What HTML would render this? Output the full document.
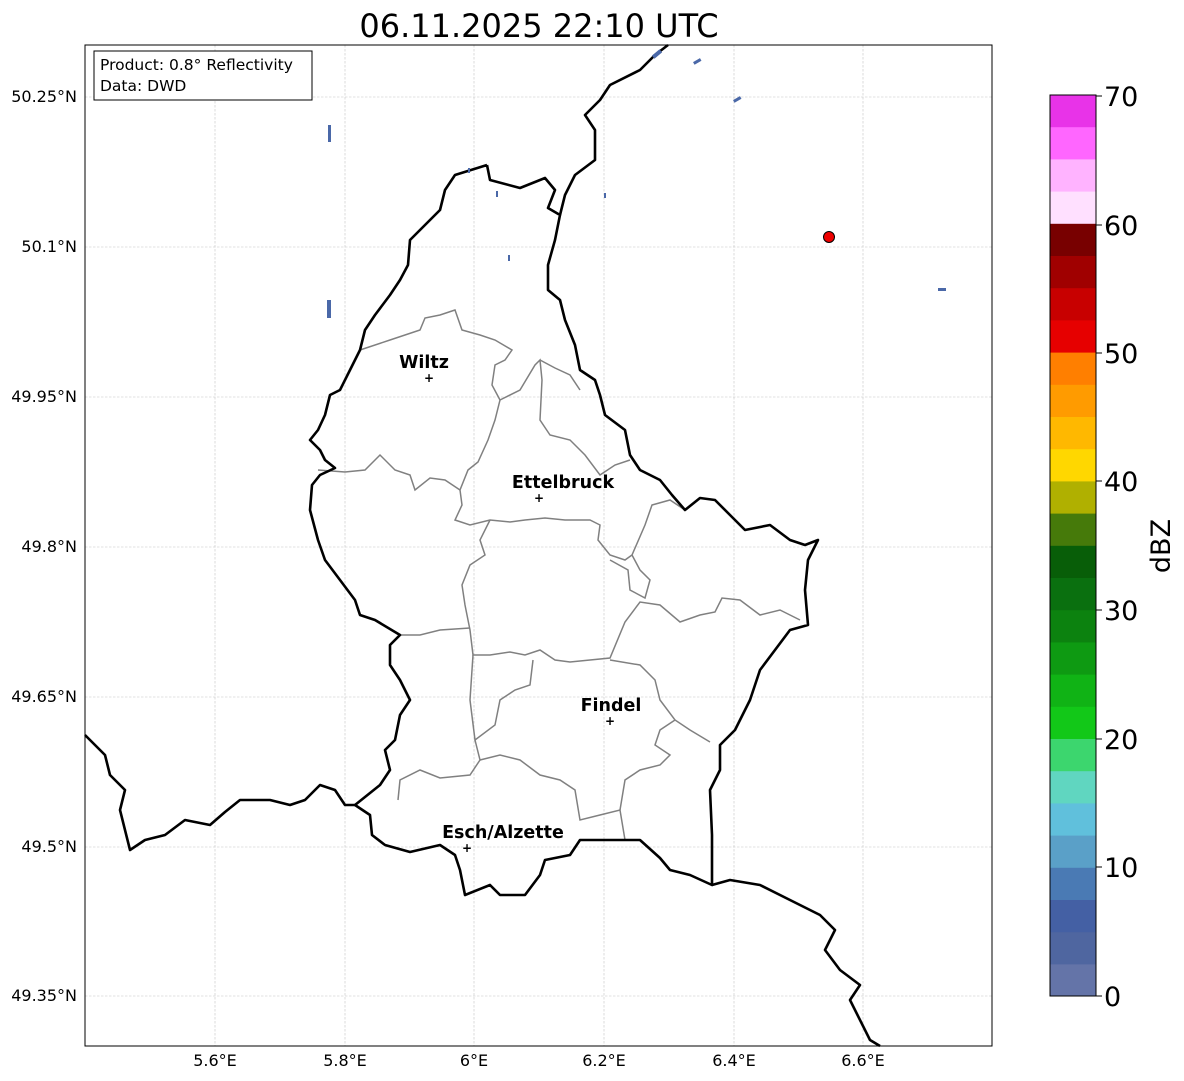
<!DOCTYPE html>
<html><head><meta charset="utf-8"><style>
body{margin:0;background:#fff;}
svg{display:block;font-family:"DejaVu Sans","Liberation Sans",sans-serif;}
</style></head><body>
<svg width="1184" height="1081" viewBox="0 0 1184 1081" xmlns="http://www.w3.org/2000/svg">
<rect width="1184" height="1081" fill="#fff"/>
<text x="539" y="37" font-size="32" text-anchor="middle">06.11.2025 22:10 UTC</text>
<g stroke="#c4c4c4" stroke-width="0.6" stroke-dasharray="2.5,1.5">
<line x1="215" y1="45" x2="215" y2="1046"/><line x1="345" y1="45" x2="345" y2="1046"/>
<line x1="474" y1="45" x2="474" y2="1046"/><line x1="604" y1="45" x2="604" y2="1046"/>
<line x1="734" y1="45" x2="734" y2="1046"/><line x1="863" y1="45" x2="863" y2="1046"/>
<line x1="85" y1="97" x2="992" y2="97"/><line x1="85" y1="247" x2="992" y2="247"/>
<line x1="85" y1="397" x2="992" y2="397"/><line x1="85" y1="547" x2="992" y2="547"/>
<line x1="85" y1="697" x2="992" y2="697"/><line x1="85" y1="847" x2="992" y2="847"/>
<line x1="85" y1="996" x2="992" y2="996"/>
</g>
<g fill="none" stroke="#808080" stroke-width="1.5">
<polyline points="360,350 390,340 420,330 425,318 440,315 455,310 462,330 480,335 495,340 512,350 505,360 495,365 492,385 500,400 495,420 488,440 478,462 468,470 460,490 462,505 455,520 470,525 490,520 510,522 525,520 545,518 565,520 590,520 600,525 598,540 610,555 625,560 632,555 645,525 652,505 670,500 685,510"/>
<polyline points="318,470 345,472 365,470 380,455 395,470 410,475 415,490 430,478 445,480 460,490"/>
<polyline points="500,400 520,390 535,365 540,360 542,380 540,420 550,435 570,440 585,455 600,475 615,465 630,460"/>
<polyline points="540,360 555,368 570,375 580,390"/>
<polyline points="490,520 480,540 485,555 470,565 462,585 465,605 470,630 473,655 490,655 510,652 525,655 540,650 555,660 570,662 590,660 610,658 625,622 640,602 660,605 680,622 700,615 715,612 722,598 740,600 760,615 780,610 800,620"/>
<polyline points="632,555 640,570 650,580 645,598 630,590 628,570 610,560"/>
<polyline points="400,635 420,635 440,630 470,628"/>
<polyline points="473,655 470,700 475,740 495,725 500,700 515,690 530,685 533,660"/>
<polyline points="610,660 640,665 655,680 660,700 675,720 690,730 710,742"/>
<polyline points="475,740 480,760 470,775 440,778 420,770 400,780 398,800"/>
<polyline points="480,760 500,755 520,760 540,775 560,780 575,790 580,820 600,815 620,810 625,840"/>
<polyline points="675,720 660,730 655,745 670,755 660,765 640,770 625,780 620,810"/>
</g>
<g fill="none" stroke="#000" stroke-width="2.6" stroke-linejoin="round">
<polyline points="487,165 490,180 520,188 545,178 555,190 548,208 560,215 555,240 548,265 548,290 560,300 565,320 575,345 580,370 595,380 600,395 605,415 625,430 630,455 640,470 660,480 672,495 685,510 700,498 715,500 730,515 745,530 770,525 790,540 805,545 818,540 808,560 805,590 808,625 790,630 775,650 760,670 750,700 735,730 720,745 720,770 710,790 712,835 712,885 690,875 670,870 660,858 640,840 580,840 570,855 545,860 540,875 525,895 500,895 490,885 465,895 460,870 455,855 440,845 410,852 385,845 372,835 370,815 355,805 380,785 390,770 385,750 395,740 400,715 410,700 400,680 390,665 390,645 400,635 375,620 360,615 355,600 340,580 325,560 318,540 310,510 312,485 320,475 335,468 325,460 320,450 310,440 318,430 325,415 330,395 340,390 350,370 360,350 365,330 375,315 390,295 400,280 408,265 410,240 425,225 440,210 445,190 455,175 487,165"/>
<polyline points="712,885 730,880 760,885 790,900 820,915 835,930 825,950 840,970 860,985 850,1000 870,1040 880,1046"/>
<polyline points="85,735 105,755 110,775 125,790 120,810 130,850 145,840 165,835 185,820 210,825 225,812 240,800 270,800 290,805 305,800 320,785 335,790 345,805 355,805"/>
<polyline points="560,215 565,195 575,175 595,160 595,130 585,115 600,100 610,85 640,70 655,55 668,45"/>
</g>
<g fill="#4a68a8">
<rect x="328" y="125" width="3" height="17"/><rect x="327" y="300" width="4" height="18"/>
<rect x="468" y="168" width="2" height="5"/><rect x="496" y="191" width="2" height="6"/>
<rect x="508" y="255" width="2" height="6"/><rect x="604" y="193" width="2" height="5"/>
<rect x="693" y="60" width="8" height="3" transform="rotate(-30 697 61)"/>
<rect x="733" y="98" width="8" height="3" transform="rotate(-30 737 99)"/>
<rect x="938" y="288" width="8" height="3"/>
<rect x="652" y="52" width="10" height="4" transform="rotate(-40 657 54)"/>
</g>
<circle cx="829" cy="237" r="5.5" fill="#e00" stroke="#000" stroke-width="1"/>
<g font-size="17.5" font-weight="bold" text-anchor="middle">
<text x="424" y="368">Wiltz</text><text x="563" y="488">Ettelbruck</text>
<text x="611" y="711">Findel</text><text x="503" y="838">Esch/Alzette</text>
</g>
<g font-size="12" font-weight="bold" text-anchor="middle">
<text x="429" y="382">+</text><text x="539" y="502">+</text><text x="610" y="725">+</text><text x="467" y="852">+</text>
</g>
<rect x="85" y="45" width="907" height="1001" fill="none" stroke="#000" stroke-width="1"/>
<rect x="94" y="51" width="218" height="49" fill="#fff" stroke="#000" stroke-width="1"/>
<text x="100" y="70" font-size="15.5">Product: 0.8° Reflectivity</text>
<text x="100" y="91" font-size="15.5">Data: DWD</text>
<g font-size="16" text-anchor="middle">
<text x="215" y="1066">5.6°E</text><text x="345" y="1066">5.8°E</text><text x="474" y="1066">6°E</text>
<text x="604" y="1066">6.2°E</text><text x="734" y="1066">6.4°E</text><text x="863" y="1066">6.6°E</text>
</g>
<g font-size="16" text-anchor="end">
<text x="77" y="102">50.25°N</text><text x="77" y="252">50.1°N</text><text x="77" y="402">49.95°N</text>
<text x="77" y="552">49.8°N</text><text x="77" y="702">49.65°N</text><text x="77" y="852">49.5°N</text>
<text x="77" y="1001">49.35°N</text>
</g>
<g stroke="none">
<rect x="1050" y="95.0" width="46" height="32.7" fill="#e833e8"/>
<rect x="1050" y="127.2" width="46" height="32.7" fill="#ff66ff"/>
<rect x="1050" y="159.4" width="46" height="32.7" fill="#ffb3ff"/>
<rect x="1050" y="191.6" width="46" height="32.7" fill="#ffe0ff"/>
<rect x="1050" y="223.8" width="46" height="32.7" fill="#780000"/>
<rect x="1050" y="256.0" width="46" height="32.7" fill="#a00000"/>
<rect x="1050" y="288.2" width="46" height="32.7" fill="#c80000"/>
<rect x="1050" y="320.4" width="46" height="32.7" fill="#e60000"/>
<rect x="1050" y="352.6" width="46" height="32.7" fill="#ff7f00"/>
<rect x="1050" y="384.8" width="46" height="32.7" fill="#ff9b00"/>
<rect x="1050" y="417.0" width="46" height="32.7" fill="#ffb800"/>
<rect x="1050" y="449.2" width="46" height="32.7" fill="#ffd700"/>
<rect x="1050" y="481.4" width="46" height="32.7" fill="#b0b000"/>
<rect x="1050" y="513.6" width="46" height="32.7" fill="#467a0a"/>
<rect x="1050" y="545.8" width="46" height="32.7" fill="#085e08"/>
<rect x="1050" y="578.0" width="46" height="32.7" fill="#0a700f"/>
<rect x="1050" y="610.2" width="46" height="32.7" fill="#0c820f"/>
<rect x="1050" y="642.4" width="46" height="32.7" fill="#0e9a12"/>
<rect x="1050" y="674.6" width="46" height="32.7" fill="#10b315"/>
<rect x="1050" y="706.8" width="46" height="32.7" fill="#12c818"/>
<rect x="1050" y="739.0" width="46" height="32.7" fill="#3cd66e"/>
<rect x="1050" y="771.2" width="46" height="32.7" fill="#60d6c0"/>
<rect x="1050" y="803.4" width="46" height="32.7" fill="#60c0dc"/>
<rect x="1050" y="835.6" width="46" height="32.7" fill="#5aa0c8"/>
<rect x="1050" y="867.8" width="46" height="32.7" fill="#4a7ab4"/>
<rect x="1050" y="900.0" width="46" height="32.7" fill="#4460a4"/>
<rect x="1050" y="932.2" width="46" height="32.7" fill="#4f66a0"/>
<rect x="1050" y="964.4" width="46" height="31.6" fill="#6474a8"/>
</g>
<rect x="1050" y="95" width="46" height="901" fill="none" stroke="#000" stroke-width="1"/>
<g stroke="#000" stroke-width="1">
<line x1="1096" y1="96" x2="1102" y2="96"/><line x1="1096" y1="225" x2="1102" y2="225"/>
<line x1="1096" y1="353" x2="1102" y2="353"/><line x1="1096" y1="481" x2="1102" y2="481"/>
<line x1="1096" y1="610" x2="1102" y2="610"/><line x1="1096" y1="739" x2="1102" y2="739"/>
<line x1="1096" y1="867" x2="1102" y2="867"/><line x1="1096" y1="996" x2="1102" y2="996"/>
</g>
<g font-size="27">
<text x="1104" y="106">70</text><text x="1104" y="235">60</text><text x="1104" y="363">50</text>
<text x="1104" y="491">40</text><text x="1104" y="620">30</text><text x="1104" y="749">20</text>
<text x="1104" y="877">10</text><text x="1104" y="1006">0</text>
</g>
<text transform="translate(1170,546) rotate(-90)" font-size="27" text-anchor="middle">dBZ</text>
</svg>
</body></html>
